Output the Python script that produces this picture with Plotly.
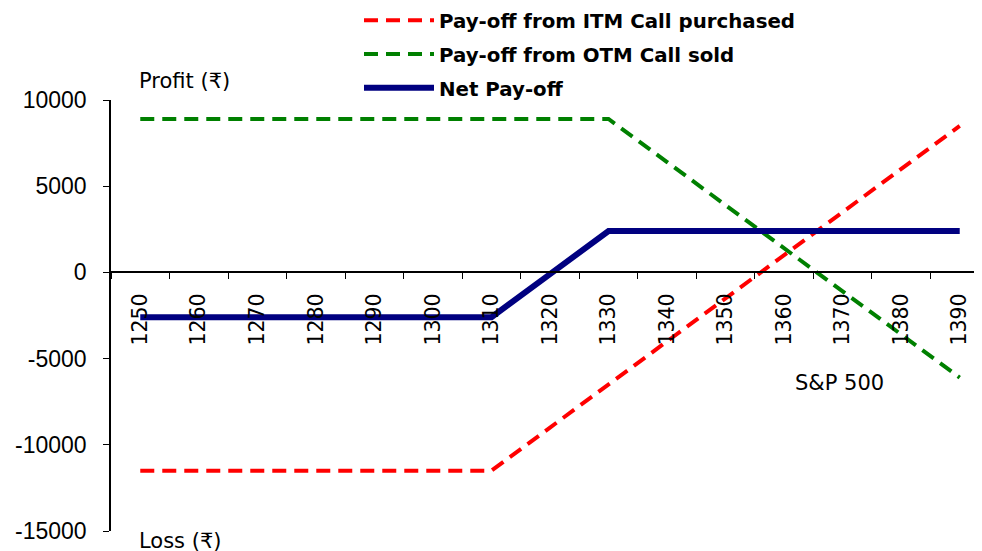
import plotly.graph_objects as go

strikes = ["1250", "1260", "1270", "1280", "1290", "1300", "1310", "1320",
           "1330", "1340", "1350", "1360", "1370", "1380", "1390"]
itm_call_purchased = [-11500, -11500, -11500, -11500, -11500, -11500, -11500, -9000,
                      -6500, -4000, -1500, 1000, 3500, 6000, 8500]
otm_call_sold = [8900, 8900, 8900, 8900, 8900, 8900, 8900, 8900,
                 8900, 6400, 3900, 1400, -1100, -3600, -6100]
net_payoff = [-2600, -2600, -2600, -2600, -2600, -2600, -2600, -100,
              2400, 2400, 2400, 2400, 2400, 2400, 2400]
y_ticks = [-15000, -10000, -5000, 0, 5000, 10000]
y_tick_labels = ["-15000", "-10000", "-5000", "0", "5000", "10000"]

W, H = 982, 551
OFF = 8  # page body margin offset
L, R, T, B = 111 - OFF, 1, 100 - OFF, H - (531 - OFF)
pw, ph = W - L - R, H - T - B

def px_x(px):
    return (px - OFF - L) / pw

def px_y(py):
    return (H - B - (py - OFF)) / ph

fig = go.Figure()
fig.add_trace(go.Scatter(x=strikes, y=itm_call_purchased, mode="lines",
                         name="Pay-off from ITM Call purchased", legendgroup="a",
                         line=dict(color="#FF0000", width=4, dash="14px,8px")))
fig.add_trace(go.Scatter(x=strikes, y=otm_call_sold, mode="lines",
                         name="Pay-off from OTM Call sold", legendgroup="b",
                         line=dict(color="#008000", width=4, dash="14px,8px")))
fig.add_trace(go.Scatter(x=strikes, y=net_payoff, mode="lines",
                         name="Net Pay-off", legendgroup="c",
                         line=dict(color="#000080", width=6)))

fig.update_layout(
    width=W, height=H,
    margin=dict(l=L, r=R, t=T, b=B, pad=0, autoexpand=False),
    paper_bgcolor="white", plot_bgcolor="white",
    showlegend=True,
    legend=dict(xref="container", yref="paper", x=351 / W, y=px_y(1),
                xanchor="left", yanchor="top", traceorder="grouped",
                tracegroupgap=5, itemwidth=70,
                font=dict(family="DejaVu Sans", size=19.8, color="black", weight="bold"),
                bgcolor="rgba(0,0,0,0)"),
    xaxis=dict(type="category", range=[-0.5, 14.5], anchor="free",
               position=0.6, showline=True, linecolor="black", linewidth=1.5,
               ticks="outside", ticklen=6, tickcolor="black", tickson="boundaries",
               tickangle=-90, ticklabelstandoff=12, showgrid=False, zeroline=False,
               tickfont=dict(family="DejaVu Sans", size=20.5, color="black")),
    yaxis=dict(range=[-15000, 10000], tickvals=y_ticks, ticktext=y_tick_labels,
               showline=True,
               linecolor="black", linewidth=1.5, ticks="outside", ticklen=6,
               tickcolor="black", ticklabelstandoff=12, showgrid=False,
               zeroline=False,
               tickfont=dict(family="Liberation Sans", size=23, color="black")),
    annotations=[
        dict(text="Profit (₹)", xref="paper", yref="paper", x=px_x(137), y=px_y(81),
             xanchor="left", yanchor="middle", showarrow=False,
             font=dict(family="DejaVu Sans", size=21, color="black")),
        dict(text="Loss (₹)", xref="paper", yref="paper", x=px_x(137), y=px_y(541),
             xanchor="left", yanchor="middle", showarrow=False,
             font=dict(family="DejaVu Sans", size=21, color="black")),
        dict(text="S&P 500", xref="paper", yref="paper", x=px_x(793), y=px_y(383),
             xanchor="left", yanchor="middle", showarrow=False,
             font=dict(family="DejaVu Sans", size=21, color="black")),
    ],
)
fig.write_html("out.html")
